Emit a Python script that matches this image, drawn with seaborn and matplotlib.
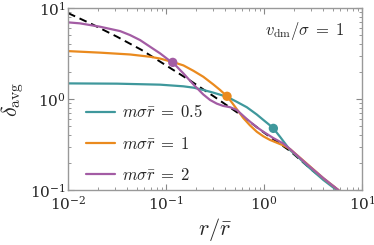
import numpy as np
import pandas as pd
import matplotlib
matplotlib.use("Agg")
import matplotlib.pyplot as plt
import seaborn as sns

# ---- data ----
dash_r = [0.01, 0.01778, 0.03162, 0.05623, 0.1, 0.1778, 0.3162, 0.5623, 1.0, 1.841, 3.162, 5.702, 7.079]
dash_d = [8.81, 6.607, 4.842, 3.467, 2.344, 1.585, 1.047, 0.684, 0.427, 0.269, 0.162, 0.100, 0.0832]

teal_r = [0.01, 0.03162, 0.0869, 0.1503, 0.1905, 0.2399, 0.3041, 0.4188, 0.526, 0.6668, 0.8433,
          0.984, 1.122, 1.245, 1.455, 1.841, 2.239, 2.729, 3.311, 4.027, 5.495, 7.079]
teal_d = [1.486, 1.476, 1.439, 1.380, 1.334, 1.259, 1.175, 1.059, 0.933, 0.813, 0.676,
          0.589, 0.525, 0.476, 0.385, 0.275, 0.229, 0.186, 0.155, 0.129, 0.100, 0.0794]

orng_r = [0.01, 0.02123, 0.04295, 0.06871, 0.0869, 0.1169, 0.1503, 0.1905, 0.2399, 0.3041, 0.3556,
          0.4188, 0.4710, 0.5260, 0.6152, 0.7194, 0.8433, 0.984, 1.151, 1.349, 1.574, 1.841,
          2.729, 4.027, 5.728, 7.079]
orng_d = [3.365, 3.236, 3.090, 2.917, 2.786, 2.553, 2.344, 2.042, 1.758, 1.445, 1.259,
          1.072, 0.912, 0.776, 0.617, 0.513, 0.437, 0.389, 0.355, 0.331, 0.309, 0.282,
          0.195, 0.135, 0.100, 0.0813]

purp_r = [0.01, 0.01324, 0.02123, 0.03396, 0.04295, 0.05433, 0.06871, 0.0869, 0.1099, 0.1169,
          0.1503, 0.1905, 0.2399, 0.2812, 0.3289, 0.3819, 0.4498, 0.5260, 0.6668, 0.8433,
          0.9840, 1.245, 1.574, 1.841, 2.729, 4.027, 5.728, 7.079]
purp_d = [6.966, 6.792, 6.237, 5.585, 5.047, 4.446, 3.758, 3.177, 2.618, 2.529,
          1.914, 1.445, 1.122, 0.977, 0.891, 0.841, 0.813, 0.759, 0.603, 0.490,
          0.437, 0.372, 0.324, 0.282, 0.193, 0.135, 0.100, 0.0813]

marker_r = [1.245, 0.419, 0.117]
marker_d = [0.476, 1.072, 2.53]

labels = [r"$m\sigma\bar{r}\;=\;0.5$", r"$m\sigma\bar{r}\;=\;1$", r"$m\sigma\bar{r}\;=\;2$"]
colors = ["#3f989c", "#ea8a1e", "#a35ca4"]

# ---- style ----
sns.set_theme(style="ticks")
plt.rcParams["font.family"] = ["DejaVu Serif"]
plt.rcParams["mathtext.fontset"] = "cm"

fig = plt.figure(figsize=(3.74, 2.45), dpi=100)
ax = fig.add_axes([0.182, 0.2245, 0.786, 0.7425])

series = [(teal_r, teal_d), (orng_r, orng_d), (purp_r, purp_d)]
for (r, d), lab, c in zip(series, labels, colors):
    df = pd.DataFrame({"r": r, "d": d})
    sns.lineplot(data=df, x="r", y="d", ax=ax, color=c, lw=1.6, label=lab,
                 estimator=None, sort=True, solid_joinstyle="round")

ddf = pd.DataFrame({"r": dash_r, "d": dash_d})
sns.lineplot(data=ddf, x="r", y="d", ax=ax, color="black", lw=1.4,
             linestyle=(0, (4, 2.5)), estimator=None, zorder=1.5)

mdf = pd.DataFrame({"r": marker_r, "d": marker_d, "c": labels})
sns.scatterplot(data=mdf, x="r", y="d", hue="c", palette=colors, ax=ax,
                s=45, edgecolor="none", legend=False, zorder=5)

ax.set_xscale("log")
ax.set_yscale("log")
ax.set_xlim(1e-2, 1e1)
ax.set_ylim(1e-1, 1e1)

ax.set_xlabel(r"$r/\bar{r}$", fontsize=16, labelpad=2)
ax.set_ylabel(r"$\delta_{\rm avg}$", fontsize=16, labelpad=3)

ax.tick_params(which="both", direction="in", top=True, right=True,
               color="#888888", labelsize=11)
ax.tick_params(axis="x", pad=3.5)
ax.tick_params(axis="y", pad=1.5)
ax.tick_params(which="major", length=4, width=0.8)
ax.tick_params(which="minor", length=2, width=0.6)
for s in ax.spines.values():
    s.set_color("#999999")
    s.set_linewidth(1.0)

ax.text(0.94, 0.875, r"$v_{\rm dm}/\sigma\;=\;1$", transform=ax.transAxes,
        ha="right", va="center", fontsize=12)

handles, labs = ax.get_legend_handles_labels()
ax.legend(handles[:3], labs[:3], loc="lower left", bbox_to_anchor=(0.02, -0.03),
          frameon=False, fontsize=12, handlelength=1.75, handletextpad=0.45,
          labelspacing=0.85, borderaxespad=0.3)

fig.savefig("out.png", dpi=100)
